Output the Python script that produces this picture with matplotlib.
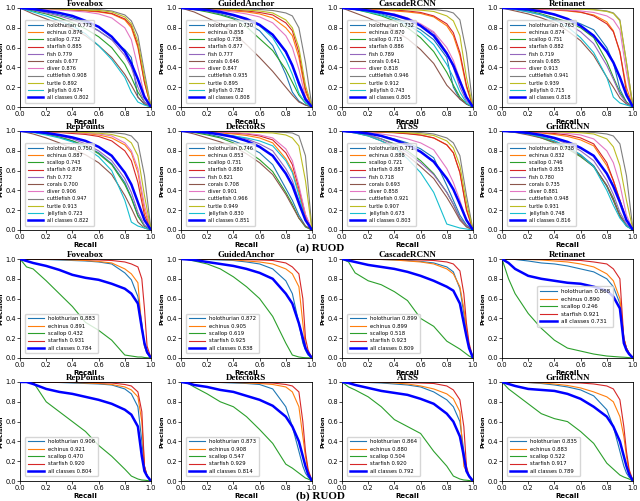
import numpy as np
import matplotlib
matplotlib.use("Agg")
import matplotlib.pyplot as plt

# ---- data ----
models = ["Foveabox", "GuidedAnchor", "CascadeRCNN", "Retinanet",
          "RepPoints", "DetectoRS", "ATSS", "GridRCNN"]

classes_a = ["holothurian", "echinus", "scallop", "starfish", "fish", "corals",
             "diver", "cuttlefish", "turtle", "jellyfish", "all classes"]
classes_b = ["holothurian", "echinus", "scallop", "starfish", "all classes"]

recall_a = [0, .1, .2, .3, .4, .5, .6, .7, .8, .85, .9, .95, 1.0]
recall_b = [0, .05, .1, .2, .3, .4, .5, .6, .7, .8, .85, .9, .93, .95, .97, 1.0]

# (a) RUOD, 10 classes + all
ap_foveabox_a = [.773, .876, .732, .885, .779, .677, .876, .908, .892, .674, .802]
pr_foveabox_a = [
    [1, .98, .96, .93, .9, .85, .77, .68, .58, .5, .1, .03, 0],
    [1, .995, .99, .985, .98, .97, .96, .94, .88, .8, .6, .25, 0],
    [1, .97, .94, .9, .85, .79, .71, .6, .43, .3, .15, .05, 0],
    [1, .995, .99, .985, .98, .975, .965, .945, .89, .82, .62, .25, 0],
    [1, .98, .95, .92, .88, .83, .77, .68, .52, .4, .2, .05, 0],
    [1, .94, .89, .84, .79, .72, .62, .5, .33, .22, .1, .03, 0],
    [1, .99, .985, .98, .97, .96, .94, .9, .8, .68, .4, .12, 0],
    [1, .998, .995, .993, .99, .99, .985, .97, .93, .87, .72, .35, 0],
    [1, .997, .993, .99, .985, .98, .975, .96, .91, .84, .66, .3, 0],
    [1, .96, .92, .87, .82, .74, .62, .48, .3, .15, .05, .02, 0],
    [1, .99, .97, .95, .92, .87, .81, .71, .56, .44, .28, .1, 0],
]
ap_guided_a = [.730, .858, .738, .877, .777, .646, .847, .935, .895, .782, .808]
pr_guided_a = [
    [1, .99, .97, .94, .9, .85, .77, .62, .33, .15, .06, .02, 0],
    [1, .995, .99, .98, .97, .96, .94, .9, .8, .72, .5, .15, 0],
    [1, .985, .96, .93, .89, .81, .69, .57, .38, .25, .12, .04, 0],
    [1, .995, .99, .985, .98, .97, .955, .93, .85, .77, .55, .18, 0],
    [1, .99, .97, .95, .92, .88, .82, .73, .55, .42, .22, .06, 0],
    [1, .96, .9, .84, .75, .63, .5, .36, .2, .12, .05, .02, 0],
    [1, .995, .985, .975, .96, .94, .91, .85, .72, .6, .38, .1, 0],
    [1, .999, .998, .996, .994, .99, .985, .975, .95, .92, .8, .45, 0],
    [1, .997, .993, .99, .985, .98, .97, .95, .88, .8, .6, .22, 0],
    [1, .99, .975, .955, .93, .89, .82, .7, .48, .33, .14, .04, 0],
    [1, .99, .98, .96, .93, .89, .83, .73, .56, .42, .24, .08, 0],
]
ap_cascade_a = [.732, .870, .715, .886, .789, .641, .818, .946, .912, .743, .805]
pr_cascade_a = [
    [1, .99, .97, .94, .9, .85, .78, .68, .5, .2, .08, .03, 0],
    [1, .995, .99, .98, .97, .96, .945, .91, .82, .72, .52, .2, 0],
    [1, .985, .955, .92, .87, .8, .7, .56, .35, .22, .1, .03, 0],
    [1, .996, .99, .985, .98, .97, .955, .92, .84, .75, .55, .22, 0],
    [1, .99, .975, .95, .92, .88, .83, .75, .55, .4, .2, .06, 0],
    [1, .95, .9, .84, .77, .69, .58, .44, .22, .15, .08, .03, 0],
    [1, .99, .98, .96, .94, .9, .84, .76, .6, .47, .28, .09, 0],
    [1, .999, .998, .997, .995, .993, .99, .985, .97, .95, .88, .55, 0],
    [1, .997, .994, .99, .987, .983, .978, .965, .92, .87, .72, .3, 0],
    [1, .985, .96, .93, .89, .83, .75, .63, .43, .3, .15, .04, 0],
    [1, .99, .975, .955, .93, .89, .82, .72, .54, .42, .26, .1, 0],
]
ap_retina_a = [.763, .874, .751, .882, .719, .685, .913, .941, .939, .715, .818]
pr_retina_a = [
    [1, .99, .98, .96, .93, .89, .84, .78, .6, .45, .18, .05, 0],
    [1, .995, .99, .985, .98, .97, .955, .93, .86, .77, .55, .2, 0],
    [1, .99, .97, .94, .9, .86, .8, .7, .46, .3, .15, .05, 0],
    [1, .998, .995, .99, .985, .975, .96, .92, .84, .76, .56, .15, 0],
    [1, .985, .96, .93, .89, .84, .76, .64, .42, .28, .13, .04, 0],
    [1, .97, .94, .9, .85, .77, .67, .52, .3, .2, .09, .03, 0],
    [1, .998, .995, .99, .985, .98, .97, .955, .92, .88, .78, .35, 0],
    [1, .999, .998, .997, .995, .993, .99, .985, .97, .95, .88, .45, 0],
    [1, .999, .998, .996, .994, .992, .988, .982, .965, .945, .87, .45, 0],
    [1, .985, .96, .93, .88, .81, .7, .55, .3, .1, .04, .02, 0],
    [1, .995, .985, .965, .935, .89, .82, .72, .56, .45, .3, .12, 0],
]
ap_rep_a = [.750, .887, .743, .878, .772, .700, .906, .947, .913, .723, .822]
pr_rep_a = [
    [1, .99, .97, .94, .9, .85, .78, .67, .48, .33, .15, .04, 0],
    [1, .998, .995, .99, .985, .975, .96, .93, .86, .78, .58, .2, 0],
    [1, .99, .97, .94, .9, .85, .77, .66, .46, .32, .14, .04, 0],
    [1, .996, .99, .985, .975, .965, .945, .9, .8, .7, .48, .15, 0],
    [1, .99, .975, .95, .92, .87, .8, .7, .52, .38, .18, .05, 0],
    [1, .97, .93, .88, .82, .76, .68, .56, .35, .22, .08, .02, 0],
    [1, .998, .995, .99, .985, .98, .97, .95, .88, .8, .62, .25, 0],
    [1, .999, .998, .997, .996, .994, .99, .985, .97, .95, .88, .55, 0],
    [1, .998, .996, .993, .99, .985, .978, .965, .93, .88, .75, .35, 0],
    [1, .985, .96, .93, .89, .83, .74, .6, .3, .08, .04, .02, 0],
    [1, .995, .98, .96, .935, .9, .84, .75, .58, .46, .28, .1, 0],
]
ap_detecto_a = [.746, .853, .731, .880, .821, .708, .901, .966, .949, .830, .851]
pr_detecto_a = [
    [1, .99, .97, .94, .9, .85, .78, .66, .42, .3, .15, .04, 0],
    [1, .995, .99, .98, .97, .955, .93, .88, .72, .6, .38, .12, 0],
    [1, .985, .96, .93, .88, .8, .71, .59, .38, .26, .12, .03, 0],
    [1, .997, .993, .988, .98, .97, .95, .91, .78, .66, .42, .15, 0],
    [1, .995, .985, .97, .95, .92, .87, .8, .62, .5, .3, .1, 0],
    [1, .97, .93, .89, .84, .77, .68, .56, .36, .24, .12, .04, 0],
    [1, .998, .995, .99, .985, .975, .96, .93, .82, .7, .45, .16, 0],
    [1, 1, .999, .998, .997, .996, .995, .99, .985, .98, .95, .75, 0],
    [1, .999, .998, .996, .994, .99, .985, .98, .96, .93, .85, .5, 0],
    [1, .995, .985, .97, .95, .93, .9, .85, .7, .58, .35, .1, 0],
    [1, .995, .985, .965, .94, .9, .84, .75, .57, .45, .27, .1, 0],
]
ap_atss_a = [.771, .888, .721, .887, .718, .693, .858, .921, .907, .673, .803]
pr_atss_a = [
    [1, .99, .975, .95, .92, .88, .82, .73, .45, .3, .15, .05, 0],
    [1, .997, .993, .99, .985, .975, .96, .93, .86, .78, .58, .22, 0],
    [1, .985, .96, .92, .87, .8, .7, .57, .38, .26, .12, .04, 0],
    [1, .997, .993, .988, .982, .972, .958, .93, .86, .78, .58, .2, 0],
    [1, .985, .96, .92, .86, .78, .68, .56, .38, .26, .12, .04, 0],
    [1, .98, .95, .9, .84, .75, .64, .52, .33, .22, .1, .03, 0],
    [1, .995, .985, .97, .95, .92, .88, .81, .62, .48, .3, .1, 0],
    [1, .999, .998, .996, .993, .99, .985, .97, .93, .88, .75, .35, 0],
    [1, .998, .995, .992, .988, .982, .972, .955, .9, .83, .65, .28, 0],
    [1, .98, .95, .9, .83, .72, .58, .38, .06, .04, .02, .01, 0],
    [1, .99, .975, .95, .91, .86, .79, .69, .52, .41, .26, .1, 0],
]
ap_grid_a = [.738, .832, .746, .853, .780, .735, .881, .948, .931, .748, .816]
pr_grid_a = [
    [1, .99, .97, .94, .9, .84, .76, .65, .44, .3, .14, .04, 0],
    [1, .995, .99, .98, .965, .945, .91, .85, .65, .5, .3, .1, 0],
    [1, .99, .97, .93, .88, .82, .74, .64, .45, .32, .15, .05, 0],
    [1, .997, .993, .985, .975, .96, .93, .87, .68, .5, .3, .1, 0],
    [1, .99, .975, .95, .92, .87, .8, .7, .5, .36, .18, .06, 0],
    [1, .985, .96, .93, .89, .83, .75, .64, .45, .3, .14, .04, 0],
    [1, .998, .995, .99, .985, .975, .96, .92, .8, .68, .46, .15, 0],
    [1, .999, .998, .997, .995, .993, .99, .985, .97, .95, .87, .55, 0],
    [1, .999, .997, .995, .992, .988, .982, .97, .92, .84, .65, .3, 0],
    [1, .99, .97, .94, .9, .84, .76, .64, .4, .25, .12, .04, 0],
    [1, .995, .98, .96, .93, .89, .83, .75, .57, .44, .28, .1, 0],
]

# (b) 4 classes + all
ap_foveabox_b = [.883, .891, .432, .931, .784]
pr_foveabox_b = [
    [1, 1, 1, .995, .99, .985, .98, .97, .95, .86, .79, .62, .35, .12, .05, 0],
    [1, 1, 1, .998, .995, .99, .985, .975, .96, .9, .85, .76, .3, .12, .05, 0],
    [1, .92, .9, .78, .65, .52, .36, .28, .18, .03, .02, .01, .01, .005, .003, 0],
    [1, 1, 1, 1, .998, .996, .994, .99, .985, .97, .95, .92, .8, .5, .12, 0],
    [1, .98, .96, .93, .89, .84, .81, .79, .75, .7, .65, .55, .3, .15, .06, 0],
]
ap_guided_b = [.872, .905, .619, .925, .838]
pr_guided_b = [
    [1, 1, 1, .995, .99, .985, .97, .95, .9, .78, .65, .35, .15, .08, .03, 0],
    [1, 1, 1, .998, .995, .99, .98, .97, .95, .9, .85, .72, .35, .12, .05, 0],
    [1, .995, .98, .95, .9, .82, .72, .6, .42, .15, .03, .01, .005, .003, .002, 0],
    [1, 1, 1, 1, .998, .996, .993, .99, .985, .96, .92, .85, .6, .2, .08, 0],
    [1, .995, .99, .97, .95, .93, .9, .86, .8, .65, .55, .35, .2, .1, .05, 0],
]
ap_cascade_b = [.899, .899, .518, .923, .809]
pr_cascade_b = [
    [1, 1, 1, .998, .995, .99, .985, .975, .96, .92, .87, .7, .45, .25, .1, 0],
    [1, 1, 1, .998, .995, .99, .98, .97, .95, .9, .85, .72, .5, .3, .12, 0],
    [1, .97, .86, .78, .74, .67, .58, .4, .32, .17, .13, .09, .06, .04, .02, 0],
    [1, 1, 1, 1, .998, .996, .993, .99, .985, .97, .95, .88, .65, .35, .15, 0],
    [1, .985, .97, .94, .92, .9, .87, .83, .78, .72, .68, .55, .35, .22, .1, 0],
]
ap_retina_b = [.868, .890, .246, .921, .731]
pr_retina_b = [
    [1, 1, .995, .98, .96, .95, .93, .9, .87, .8, .72, .55, .2, .1, .05, 0],
    [1, 1, 1, .995, .99, .98, .97, .95, .92, .85, .78, .6, .2, .1, .05, 0],
    [1, .8, .65, .45, .3, .18, .1, .07, .04, .02, .015, .01, .008, .006, .004, 0],
    [1, 1, 1, 1, .998, .995, .99, .985, .97, .95, .9, .8, .2, .1, .05, 0],
    [1, .96, .9, .83, .8, .78, .76, .75, .72, .68, .62, .5, .15, .08, .04, 0],
]
ap_rep_b = [.906, .921, .470, .920, .804]
pr_rep_b = [
    [1, 1, 1, .998, .995, .99, .985, .98, .97, .93, .88, .75, .4, .15, .05, 0],
    [1, 1, 1, .999, .997, .995, .99, .985, .975, .95, .92, .85, .6, .15, .05, 0],
    [1, 1, 1, .8, .7, .6, .5, .36, .25, .12, .05, .02, .01, .008, .005, 0],
    [1, 1, 1, 1, .999, .998, .996, .993, .99, .975, .96, .9, .7, .15, .05, 0],
    [1, 1, .98, .93, .9, .88, .85, .82, .78, .72, .67, .55, .25, .1, .05, 0],
]
ap_detecto_b = [.873, .908, .547, .929, .814]
pr_detecto_b = [
    [1, 1, 1, .998, .995, .99, .985, .975, .93, .75, .55, .3, .15, .08, .04, 0],
    [1, 1, 1, .999, .997, .995, .99, .985, .975, .95, .9, .75, .45, .25, .1, 0],
    [1, .99, .95, .88, .8, .75, .65, .52, .38, .17, .13, .08, .05, .03, .02, 0],
    [1, 1, 1, 1, .999, .998, .996, .993, .99, .975, .96, .9, .6, .3, .12, 0],
    [1, .99, .97, .95, .92, .9, .86, .82, .76, .65, .55, .4, .25, .15, .07, 0],
]
ap_atss_b = [.864, .880, .504, .920, .792]
pr_atss_b = [
    [1, 1, 1, .995, .99, .98, .97, .95, .9, .82, .75, .6, .3, .1, .04, 0],
    [1, 1, 1, .998, .995, .99, .98, .96, .93, .88, .83, .7, .15, .1, .05, 0],
    [1, .95, .92, .85, .75, .62, .55, .48, .3, .15, .05, .02, .01, .008, .005, 0],
    [1, 1, 1, 1, .999, .997, .994, .99, .985, .96, .92, .82, .55, .15, .05, 0],
    [1, .99, .97, .94, .91, .89, .87, .83, .78, .68, .6, .45, .25, .1, .05, 0],
]
ap_grid_b = [.835, .883, .522, .917, .789]
pr_grid_b = [
    [1, 1, 1, .995, .985, .97, .95, .92, .86, .72, .55, .3, .15, .08, .04, 0],
    [1, 1, 1, .995, .99, .98, .965, .94, .9, .85, .8, .65, .45, .25, .1, 0],
    [1, .93, .88, .78, .68, .63, .6, .5, .38, .18, .12, .06, .04, .03, .02, 0],
    [1, 1, 1, 1, .998, .996, .993, .99, .98, .96, .93, .82, .55, .3, .12, 0],
    [1, .98, .96, .93, .92, .91, .88, .83, .75, .65, .55, .4, .25, .15, .07, 0],
]

# ---- styling ----
colors_a = ["tab:blue", "tab:orange", "tab:green", "tab:red", "tab:purple", "tab:brown",
            "tab:pink", "tab:gray", "tab:olive", "tab:cyan", "blue"]
colors_b = ["tab:blue", "tab:orange", "tab:green", "tab:red", "blue"]

W, H = 640, 501
fig = plt.figure(figsize=(W / 100, H / 100), dpi=100)

col_left = [20, 181, 342, 502]
row_top = [8, 131, 259, 382]
ax_w, ax_h = 131, 99

panels_a = [(pr_foveabox_a, ap_foveabox_a), (pr_guided_a, ap_guided_a),
            (pr_cascade_a, ap_cascade_a), (pr_retina_a, ap_retina_a),
            (pr_rep_a, ap_rep_a), (pr_detecto_a, ap_detecto_a),
            (pr_atss_a, ap_atss_a), (pr_grid_a, ap_grid_a)]
panels_b = [(pr_foveabox_b, ap_foveabox_b), (pr_guided_b, ap_guided_b),
            (pr_cascade_b, ap_cascade_b), (pr_retina_b, ap_retina_b),
            (pr_rep_b, ap_rep_b), (pr_detecto_b, ap_detecto_b),
            (pr_atss_b, ap_atss_b), (pr_grid_b, ap_grid_b)]


def make_ax(row, col):
    l, t = col_left[col], row_top[row]
    ax = fig.add_axes([l / W, 1 - (t + ax_h) / H, ax_w / W, ax_h / H])
    ax.set_xlim(0, 1)
    ax.set_ylim(0, 1)
    ax.set_xticks(np.arange(0, 1.01, 0.2))
    ax.set_yticks(np.arange(0, 1.01, 0.2))
    ax.tick_params(labelsize=4.8, length=2, width=0.5, pad=1)
    for s in ax.spines.values():
        s.set_linewidth(0.6)
    ax.set_xlabel("Recall", fontsize=5, fontweight="bold", labelpad=1)
    ax.set_ylabel("Precision", fontsize=4.5, fontweight="bold", labelpad=1)
    return ax


def draw(ax, recall, curves, aps, names, colors):
    for p, ap, name, c in zip(curves, aps, names, colors):
        lw = 1.8 if name == "all classes" else 0.8
        ax.plot(recall, p, color=c, lw=lw, label="%s %.3f" % (name, ap),
                zorder=3 if name == "all classes" else 2)


for k, m in enumerate(models):
    r, c = divmod(k, 4)
    ax = make_ax(r, c)
    pr, ap = panels_a[k]
    draw(ax, recall_a, pr, ap, classes_a, colors_a)
    ax.set_title(m, fontsize=6.5, fontweight="bold", family="Liberation Serif", pad=0.5)
    ax.legend(loc="lower left", bbox_to_anchor=(0.02, 0.02), fontsize=3.6,
              handlelength=3, labelspacing=0.45, borderpad=0.5, frameon=True,
              fancybox=True, framealpha=0.8, edgecolor="0.8")

    ax = make_ax(r + 2, c)
    pr, ap = panels_b[k]
    draw(ax, recall_b, pr, ap, classes_b, colors_b)
    ax.set_title(m, fontsize=6.5, fontweight="bold", family="Liberation Serif", pad=0.5)
    if m == "Retinanet":
        ax.legend(loc="center", bbox_to_anchor=(0.56, 0.52), fontsize=4,
                  handlelength=3, labelspacing=0.45, borderpad=0.5,
                  framealpha=0.8, edgecolor="0.8")
    else:
        ax.legend(loc="lower left", bbox_to_anchor=(0.02, 0.02), fontsize=3.8,
                  handlelength=3, labelspacing=0.45, borderpad=0.5,
                  framealpha=0.8, edgecolor="0.8")

fig.text(0.5, 1 - 248 / H, "(a) RUOD", ha="center", va="center", fontsize=8,
         fontweight="bold", family="Liberation Serif")
fig.text(0.5, 1 - 496 / H, "(b) RUOD", ha="center", va="center", fontsize=8,
         fontweight="bold", family="Liberation Serif")

fig.savefig("out.png", dpi=100)
